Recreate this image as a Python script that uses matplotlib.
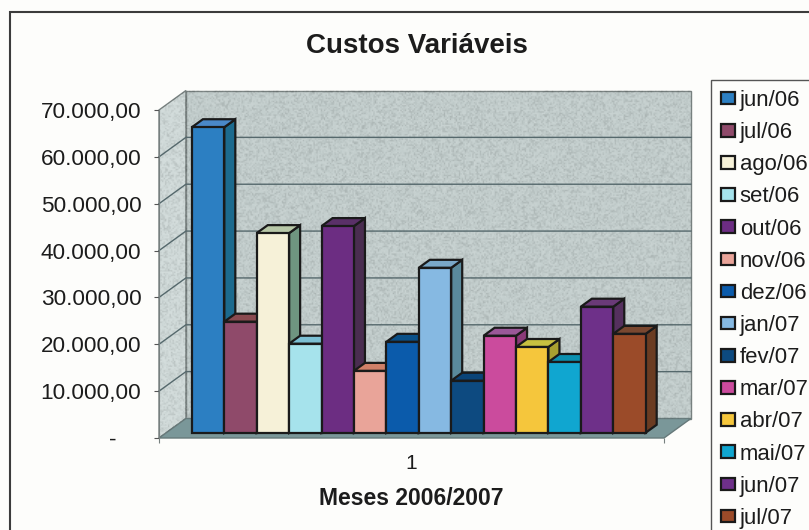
import matplotlib
matplotlib.use('Agg')
import matplotlib.pyplot as plt
from matplotlib.patches import Polygon, Patch, Rectangle
import numpy as np

plt.rcParams['font.family'] = ['Liberation Sans', 'DejaVu Sans']

# Monthly variable costs
months = ['jun/06', 'jul/06', 'ago/06', 'set/06', 'out/06', 'nov/06', 'dez/06',
          'jan/07', 'fev/07', 'mar/07', 'abr/07', 'mai/07', 'jun/07', 'jul/07']
costs = [65200, 23700, 42600, 19000, 44100, 13200, 19400,
         35200, 11100, 20700, 18300, 15100, 26900, 21100]
y_ticks = [0, 10000, 20000, 30000, 40000, 50000, 60000, 70000]

front_colors = ['#2c7fc2', '#8f4a6a', '#f6f1d8', '#a6e3ec', '#6c2d82', '#e9a499', '#0b5bab',
                '#86b9e2', '#0d4a80', '#cb4b9d', '#f5c63c', '#10a6d0', '#6e3089', '#9b4b29']
side_colors = ['#1c6a8e', '#6e3d4f', '#6f9580', '#6fa8b4', '#4a2d50', '#a06a5e', '#0a4a80',
               '#5a8a9c', '#0a3a60', '#8a3a78', '#a8a030', '#0a80a0', '#55305e', '#6b3c22']
top_colors = ['#4a88c8', '#8a4a50', '#b8c8a8', '#7cc0d4', '#5a3068', '#d08068', '#0a5088',
              '#7aa8c8', '#0a4478', '#9a5898', '#c8c040', '#0c90b0', '#6a3a78', '#7a4830']

# Oblique projection: depth 0 is the front of the floor, depth 1 the back wall
depth_x = 0.83
depth_y = 4160
bar_front = 0.27
bar_back = 0.68
gap = 0.79
floor_width = 2 * gap + len(months)
top_value = y_ticks[-1]


def proj(x, value, depth):
    return (x + depth * depth_x, value + depth * depth_y)


fig = plt.figure(figsize=(8.09, 5.30), dpi=100, facecolor='#fdfdfb')
ax = fig.add_axes([159 / 809, 1 - 438 / 530, 505 / 809, 328 / 530])
ax.set_facecolor('none')

# Outer chart frame and legend frame run past the edge of the page
fig.add_artist(Rectangle((10 / 809, -0.05), 1.1, 1 - 12 / 530 + 0.05, transform=fig.transFigure,
                         fill=False, edgecolor='#3c3c3c', linewidth=1.5))

# Walls and floor
back_wall = [proj(0, 0, 1), proj(floor_width, 0, 1), proj(floor_width, top_value, 1), proj(0, top_value, 1)]
left_wall = [proj(0, 0, 0), proj(0, 0, 1), proj(0, top_value, 1), proj(0, top_value, 0)]
floor = [proj(0, 0, 0), proj(floor_width, 0, 0), proj(floor_width, 0, 1), proj(0, 0, 1)]
ax.add_patch(Polygon(back_wall, facecolor='#c3cecd', edgecolor='#77807f', linewidth=1, clip_on=False, zorder=1))
ax.add_patch(Polygon(left_wall, facecolor='#d0dad9', edgecolor='#77807f', linewidth=1, clip_on=False, zorder=1))
ax.add_patch(Polygon(floor, facecolor='#7a9799', edgecolor='#66797a', linewidth=1, clip_on=False, zorder=1))

# Speckled fill of the walls
rng = np.random.default_rng(4)
grain = np.zeros((230, 355, 4))
grain[..., :3] = rng.integers(0, 2, (230, 355, 1))
grain[..., 3] = rng.uniform(0, 0.12, (230, 355))
grain_img = ax.imshow(grain, extent=(0, floor_width + depth_x, 0, top_value + depth_y), aspect='auto',
                      interpolation='bilinear', zorder=1.5)
grain_img.set_clip_box(fig.bbox)
grain_img.set_clip_path(Polygon([proj(0, 0, 0), proj(0, 0, 1), proj(floor_width, 0, 1),
                                 proj(floor_width, top_value, 1), proj(0, top_value, 1), proj(0, top_value, 0)],
                                transform=ax.transData))

# Gridlines along the left wall and back wall
for v in y_ticks[1:-1]:
    pts = [proj(0, v, 0), proj(0, v, 1), proj(floor_width, v, 1)]
    ax.plot(*zip(*pts), color='#55686c', linewidth=1, clip_on=False, zorder=2)

# Bars, left to right so each one covers the side of the previous bar
for i, value in enumerate(costs):
    x0 = gap + i
    x1 = x0 + 1
    base = bar_front * depth_y
    side = [proj(x1, 0, bar_front), proj(x1, 0, bar_back), proj(x1, value, bar_back), proj(x1, value, bar_front)]
    top = [proj(x0, value, bar_front), proj(x1, value, bar_front), proj(x1, value, bar_back), proj(x0, value, bar_back)]
    z = 3 + i
    ax.add_patch(Polygon(side, facecolor=side_colors[i], edgecolor='#1a1a1a', linewidth=1.6, clip_on=False, zorder=z))
    ax.add_patch(Polygon(top, facecolor=top_colors[i], edgecolor='#1a1a1a', linewidth=1.6, clip_on=False, zorder=z))
    ax.bar(x0 + bar_front * depth_x, value, width=1, bottom=base, align='edge', color=front_colors[i],
           edgecolor='#1a1a1a', linewidth=1.6, clip_on=False, zorder=z + 0.5)

ax.set_xlim(0, floor_width)
ax.set_ylim(0, top_value)

# Axes
for name in ['top', 'right', 'bottom']:
    ax.spines[name].set_visible(False)
ax.spines['left'].set_color('#77807f')
ax.spines['left'].set_zorder(2)

labels = [f'{v:,.2f}'.replace(',', 'X').replace('.', ',').replace('X', '.') for v in y_ticks]
labels[0] = '-    '
ax.set_yticks(y_ticks)
ax.set_yticklabels(labels, fontsize=16.2, color='#1c1c1c')
ax.tick_params(axis='y', length=3.6, width=0.8, color='#555555', pad=9)
ax.set_xticks([0, floor_width])
ax.set_xticklabels(['', ''])
ax.tick_params(axis='x', length=3.6, width=0.8, color='#77807f')
ax.set_xticks([floor_width / 2], labels=['1'], minor=True, fontsize=15, color='#1c1c1c')
ax.tick_params(axis='x', which='minor', length=0, pad=11.5)

ax.set_title('Custos Variáveis', fontsize=20, fontweight='bold', color='#1c1c1c', x=0.51, pad=41)
ax.set_xlabel('Meses 2006/2007', fontsize=16.5, fontweight='bold', color='#1c1c1c', labelpad=10)

# Legend
handles = [Patch(facecolor=c, edgecolor='#1a1a1a', linewidth=1.6) for c in front_colors]
leg = fig.legend(handles, months, loc='upper left', bbox_to_anchor=(711 / 809, 1 - 80 / 530), fontsize=15.9,
                 ncol=1, frameon=True, fancybox=False, framealpha=1, facecolor='#fdfdfb', edgecolor='#555555',
                 handlelength=0.65, handleheight=0.5, handletextpad=0.2, labelspacing=0.505,
                 borderpad=0.45, borderaxespad=0, labelcolor='#1c1c1c')
leg.get_frame().set_linewidth(1)

fig.savefig('out.png', dpi=100, facecolor=fig.get_facecolor())
